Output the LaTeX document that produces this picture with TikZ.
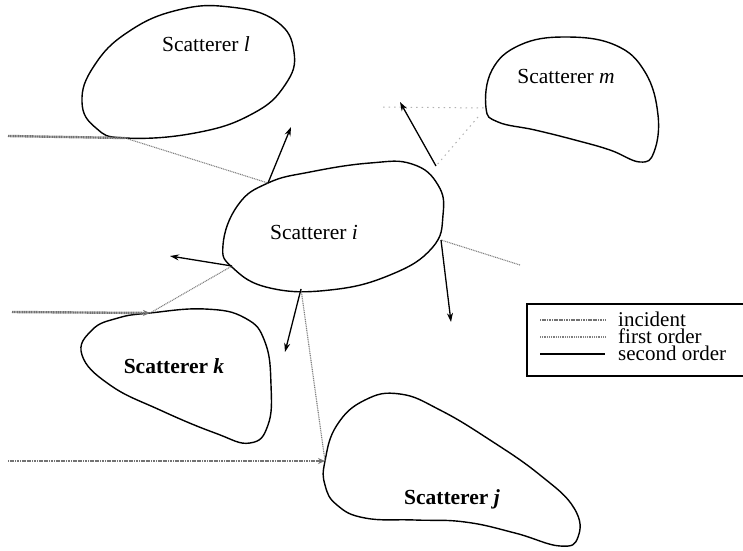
\documentclass[tikz,border=0pt]{standalone}
\usepackage{fontspec}
\setmainfont{Liberation Serif}
\usetikzlibrary{arrows.meta}
\begin{document}
\begin{tikzpicture}[x=1pt,y=-1pt,
  blob/.style={draw=black,line width=1.4pt,line join=round},
  lbl/.style={font=\fontsize{21.5}{24}\selectfont},
  blbl/.style={font=\fontsize{21.5}{24}\selectfont\bfseries},
  leg/.style={font=\fontsize{21}{24}\selectfont,inner sep=0pt,anchor=base west},
  incident/.style={draw=black!55,line width=2.4pt,dash pattern=on 1.2pt off 0.5pt},
  incarrow/.style={incident,-{Stealth[length=7pt,width=6pt]}},
  firstorder/.style={draw=black!50,line width=1.1pt,dash pattern=on 1pt off 0.8pt},
  faint/.style={draw=black!30,line width=1pt,dash pattern=on 1.5pt off 4pt},
  secondorder/.style={draw=black,line width=1.3pt,-{Stealth[length=9pt,width=6pt]}}]
\path[use as bounding box] (0,0) rectangle (743,550);

% scatterers
\draw[blob] plot[smooth cycle,tension=0.75] coordinates {(125,138) (195,133) (252,114) (285,85) (294,52) (276,21) (230,7) (178,10) (128,32) (94,66) (82,102) (96,128)};
\draw[blob] plot[smooth cycle,tension=0.7] coordinates {(486,108) (492,70) (520,45) (565,37) (615,45) (645,72) (658,115) (654,152) (640,162) (610,150) (575,140) (535,130) (498,122)};
\draw[blob] plot[smooth cycle,tension=0.75] coordinates {(223,245) (238,205) (268,183) (310,172) (370,163) (412,164) (438,185) (443,215) (432,248) (390,275) (330,290) (270,288) (233,268)};
\draw[blob] plot[smooth cycle,tension=0.75] coordinates {(150,313) (205,309) (245,318) (265,342) (271,385) (268,425) (250,443) (215,433) (160,410) (110,385) (82,355) (92,330) (118,318)};
\draw[blob] plot[smooth cycle,tension=0.75] coordinates {(325,461) (337,425) (365,400) (400,394) (440,410) (490,440) (540,475) (574,508) (578,537) (560,546) (515,533) (465,522) (415,520) (365,518) (337,505) (325,485)};

% labels
\node[lbl] (tl) at (206,44) {Scatterer \textit{l}};
\node[lbl] (tm) at (566,76) {Scatterer \textit{m}};
\node[lbl] (ti) at (314,232) {Scatterer \textit{i}};
\node[blbl] (tk) at (174,366) {Scatterer \textit{k}};
\node[blbl] (tj) at (452,499) {Scatterer \textit{j}};

% coordinates on boundaries
\coordinate (l1) at (125,138);
\coordinate (m1) at (485,108);
\coordinate (m2) at (478,117);
\coordinate (k1) at (150,313);
\coordinate (j1) at (325,461);
\coordinate (i1) at (268,183);
\coordinate (i2) at (436,166);
\coordinate (i3) at (441,240);
\coordinate (i4) at (232,266);
\coordinate (i5) at (301,289);
% free ends
\coordinate (sl) at (8,136);
\coordinate (sm) at (383,107);
\coordinate (sk) at (12,312);
\coordinate (sj) at (8,461);
\coordinate (fr) at (520,265);
\coordinate (a1) at (291,127);
\coordinate (a2) at (400,102);
\coordinate (a3) at (451,322);
\coordinate (a4) at (170,256);
\coordinate (a5) at (285,352);

% incident
\draw[incident] (sl) -- (l1);
\draw[faint] (sm) -- (m1);
\draw[incarrow] (sk) -- (k1);
\draw[incarrow] (sj) -- (j1);
% first order
\draw[firstorder] (l1) -- (i1);
\draw[faint] (m2) -- (i2);
\draw[firstorder] (fr) -- (i3);
\draw[firstorder] (k1) -- (i4);
\draw[firstorder] (j1) -- (i5);
% second order
\draw[secondorder] (i1) -- (a1);
\draw[secondorder] (i2) -- (a2);
\draw[secondorder] (i3) -- (a3);
\draw[secondorder] (i4) -- (a4);
\draw[secondorder] (i5) -- (a5);

% legend
\draw[line width=1.1pt] (527,304) rectangle (756,376);
\coordinate (la1) at (540,320); \coordinate (lb1) at (605,320);
\coordinate (la2) at (540,337); \coordinate (lb2) at (605,337);
\coordinate (la3) at (540,354); \coordinate (lb3) at (605,354);
\draw[incident] (la1) -- (lb1);
\draw[firstorder] (la2) -- (lb2);
\draw[line width=1.3pt] (la3) -- (lb3);
\node[leg] (li) at (618,326) {incident};
\node[leg] (lf) at (618,343) {first order};
\node[leg] (ls) at (618,360) {second order};
\end{tikzpicture}
\end{document}
